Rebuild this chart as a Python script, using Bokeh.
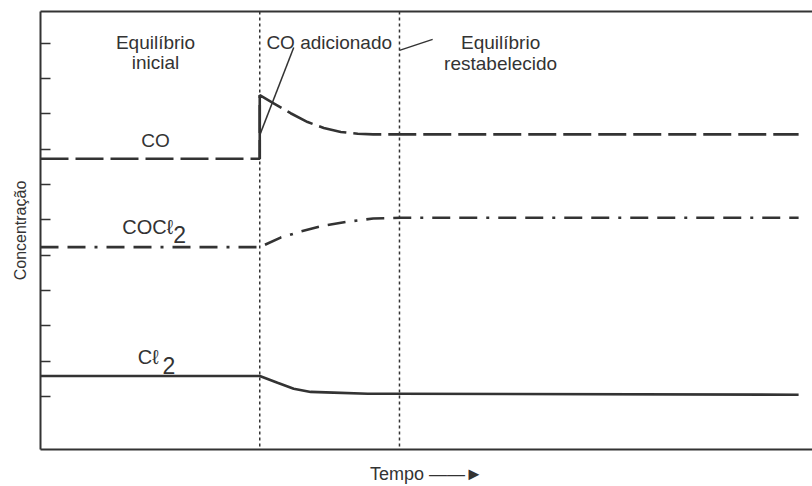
from bokeh.plotting import figure
from bokeh.models import Range1d, FixedTicker, LinearAxis, Span
from bokeh.core.properties import value
from bokeh.embed import file_html
from bokeh.resources import INLINE

# ---- data (time in arbitrary units 0-100, concentration in arbitrary units) ----
T_ADD = 28.4      # CO added
T_EQ = 46.5       # equilibrium re-established

co_t = [0, 28.4, 28.4, 30.2, 32.4, 34.6, 36.7, 38.9, 41.1, 43.1, 46.5, 98.2]
co_c = [7.73, 7.73, 9.53, 9.30, 9.02, 8.77, 8.60, 8.49, 8.44, 8.42, 8.42, 8.42]

cocl2_t = [0, 28.4, 31.1, 33.7, 36.7, 39.8, 43.1, 46.6, 98.2]
cocl2_c = [5.23, 5.23, 5.50, 5.67, 5.84, 5.95, 6.04, 6.06, 6.06]

cl2_t = [0, 28.4, 30.7, 32.8, 35.0, 37.95, 42.4, 46.5, 98.2]
cl2_c = [1.58, 1.58, 1.39, 1.22, 1.13, 1.11, 1.08, 1.08, 1.05]

y_ticks = [1, 2, 3, 4, 5, 6, 7, 8, 9, 10, 11]

label_text = ["Equilíbrio", "inicial", "CO adicionado", "Equilíbrio", "restabelecido", "CO"]
label_t = [14.9, 14.9, 37.4, 59.6, 59.6, 14.9]
label_c = [11.02, 10.46, 11.02, 11.02, 10.43, 8.26]

species_text = ["COCℓ", "Cℓ"]
species_t = [10.6, 12.6]
species_c = [5.81, 2.12]
sub_text = ["2", "2"]
sub_t = [17.2, 15.8]
sub_c = [5.58, 1.87]

ptr_t0 = [28.4, 46.5]
ptr_c0 = [8.40, 10.80]
ptr_t1 = [32.8, 50.8]
ptr_c1 = [10.88, 11.11]

x_title = "Tempo ——►"
y_title = "Concentração"

INK = "#333333"
FONT = "Liberation Sans"

p = figure(width=812, height=486, x_range=Range1d(0, 100), y_range=Range1d(-0.5, 11.9),
           output_backend="svg", toolbar_location=None,
           min_border_left=40, min_border_right=0, min_border_top=11, min_border_bottom=35,
           x_axis_location="below", y_axis_location="left")
p.outline_line_color = None
p.grid.visible = False
p.background_fill_color = "white"
p.border_fill_color = "white"

# left axis: inner ticks, no labels
ya = p.yaxis[0]
ya.ticker = FixedTicker(ticks=y_ticks)
ya.major_tick_in = 10
ya.major_tick_out = 0
ya.minor_tick_line_color = None
ya.major_label_text_font_size = "1px"
ya.major_label_text_color = None
ya.major_label_standoff = 0
ya.axis_line_color = INK
ya.axis_line_width = 2
ya.major_tick_line_color = INK
ya.major_tick_line_width = 1.5
ya.axis_label = y_title
ya.axis_label_text_font = FONT
ya.axis_label_text_font_size = "16px"
ya.axis_label_text_font_style = "normal"
ya.axis_label_text_color = INK
ya.axis_label_standoff = 12

xa = p.xaxis[0]
xa.ticker = FixedTicker(ticks=[])
xa.major_tick_line_color = None
xa.minor_tick_line_color = None
xa.major_label_text_font_size = "1px"
xa.major_label_text_color = None
xa.major_label_standoff = 0
xa.axis_line_color = INK
xa.axis_line_width = 2
xa.axis_label = x_title
xa.axis_label_text_font = FONT
xa.axis_label_text_font_size = "18px"
xa.axis_label_text_font_style = "normal"
xa.axis_label_text_color = INK
xa.axis_label_standoff = 14

top = LinearAxis(ticker=FixedTicker(ticks=[]), major_tick_line_color=None,
                 minor_tick_line_color=None, major_label_text_font_size="1px",
                 major_label_text_color=None,
                 major_label_standoff=0, axis_line_color=INK, axis_line_width=2)
p.add_layout(top, "above")

# vertical dotted markers
for t in (T_ADD, T_EQ):
    p.add_layout(Span(location=t, dimension="height", line_color=INK,
                      line_width=1.5, line_dash="3 3"))

# series
p.line(co_t, co_c, line_color=INK, line_width=2.6, line_dash="28 7")
p.segment(x0=[co_t[1]], y0=[co_c[1]], x1=[co_t[2]], y1=[co_c[2]],
          line_color=INK, line_width=2.6)
p.line(cocl2_t, cocl2_c, line_color=INK, line_width=2.6, line_dash="18 9 18 9 3 9")
p.line(cl2_t, cl2_c, line_color=INK, line_width=2.6)

# pointer lines
p.segment(x0=ptr_t0, y0=ptr_c0, x1=ptr_t1, y1=ptr_c1, line_color=INK, line_width=1.5)

# annotations
p.text(x=label_t, y=label_c, text=label_text, text_font=value(FONT),
       text_font_size="19px", text_align="center", text_baseline="alphabetic",
       text_color=INK)
p.text(x=species_t, y=species_c, text=species_text, text_font=value(FONT),
       text_font_size="20px", text_align="left", text_baseline="alphabetic",
       text_color=INK)
p.text(x=sub_t, y=sub_c, text=sub_text, text_font=value(FONT),
       text_font_size="23px", text_align="left", text_baseline="alphabetic",
       text_color=INK)

open("out.html", "w").write(file_html(p, INLINE))
